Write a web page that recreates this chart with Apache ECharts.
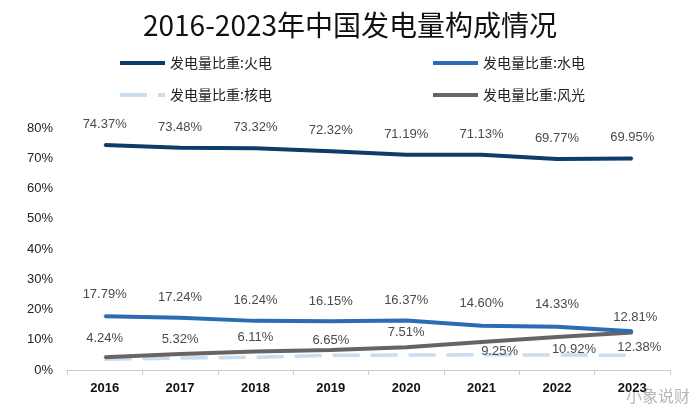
<!DOCTYPE html>
<html>
<head>
<meta charset="utf-8">
<script src="https://cdn.jsdelivr.net/npm/echarts@6/dist/echarts.min.js"></script>
<style>
  html, body { margin: 0; padding: 0; background: #fff; }
  #chart { width: 700px; height: 410px; }
</style>
</head>
<body>
<div id="chart"></div>
<script>
// values (percent)
const years = ['2016', '2017', '2018', '2019', '2020', '2021', '2022', '2023'];
const thermal = [74.37, 73.48, 73.32, 72.32, 71.19, 71.13, 69.77, 69.95];
const hydro = [17.79, 17.24, 16.24, 16.15, 16.37, 14.60, 14.33, 12.81];
const nuclear = [3.56, 3.94, 4.22, 4.88, 4.94, 5.02, 4.98, 4.86];
const wind = [4.24, 5.32, 6.11, 6.65, 7.51, 9.25, 10.92, 12.38];
const yTicks = [0, 10, 20, 30, 40, 50, 60, 70, 80];

const names = ['发电量比重:火电', '发电量比重:水电', '发电量比重:核电', '发电量比重:风光'];

// label placement (pixel offsets from the point), kept apart from the values
const hydroLabelShift = [[0, -22], [0, -20], [0, -20], [0, -20], [0, -20], [0, -22], [0, -22], [3, -14]];
const windLabelShift = [[0, -19], [0, -14], [0, -14], [0, -9], [0, -15], [18, 9], [17, 12], [7, 15]];

const labelFont = {
  show: true,
  color: '#4a4a4a',
  fontSize: 13,
  fontFamily: 'Liberation Sans, Arial, sans-serif',
  formatter: (p) => p.value.toFixed(2) + '%',
};

function withShift(values, shifts) {
  return values.map((v, i) => ({
    value: v,
    label: { position: 'inside', offset: shifts[i] },
  }));
}

const chart = echarts.init(document.getElementById('chart'));

const legendText = {
  fontSize: 14,
  color: '#222',
  fontFamily: 'Noto Sans CJK SC, sans-serif',
};
const legendBase = {
  itemWidth: 45,
  itemHeight: 10,
  itemGap: 10,
  textStyle: legendText,
  itemStyle: { opacity: 0 },
  lineStyle: { width: 4 },
  selectedMode: false,
};

chart.setOption({
  animation: false,
  backgroundColor: '#fff',
  title: {
    text: '2016-2023年中国发电量构成情况',
    left: 'center',
    top: 6,
    textStyle: {
      fontSize: 28,
      fontWeight: 'normal',
      color: '#111',
      fontFamily: 'Noto Sans CJK SC, sans-serif',
    },
  },
  legend: [
    { ...legendBase, data: [names[0]], left: 113, top: 51 },
    { ...legendBase, data: [names[1]], left: 426, top: 51 },
    { ...legendBase, data: [names[2]], left: 113, top: 83 },
    { ...legendBase, data: [names[3]], left: 426, top: 83 },
  ],
  grid: {
    left: 67,
    right: 30,
    top: 128,
    bottom: 40,
  },
  xAxis: {
    type: 'category',
    data: years,
    boundaryGap: true,
    axisLine: { lineStyle: { color: '#c8ccd2', width: 1 } },
    axisTick: { show: true, length: 5, lineStyle: { color: '#c8ccd2' } },
    axisLabel: {
      color: '#111',
      fontSize: 13,
      fontWeight: 'bold',
      margin: 12,
      fontFamily: 'Liberation Sans, Arial, sans-serif',
    },
  },
  yAxis: {
    type: 'value',
    min: yTicks[0],
    max: yTicks[yTicks.length - 1],
    interval: 10,
    axisLine: { show: false },
    axisTick: { show: false },
    splitLine: { show: false },
    axisLabel: {
      formatter: '{value}%',
      color: '#222',
      fontSize: 13,
      margin: 14,
      fontFamily: 'Liberation Sans, Arial, sans-serif',
    },
  },
  series: [
    {
      name: names[0],
      type: 'line',
      data: thermal,
      symbol: 'circle',
      symbolSize: 2,
      color: '#0f3b69',
      lineStyle: { width: 4, color: '#0f3b69' },
      label: { ...labelFont, position: 'top', distance: 13 },
      z: 4,
    },
    {
      name: names[1],
      type: 'line',
      data: withShift(hydro, hydroLabelShift),
      symbol: 'circle',
      symbolSize: 2,
      color: '#2c6cb4',
      lineStyle: { width: 4, color: '#2c6cb4' },
      label: labelFont,
      z: 4,
    },
    {
      name: names[2],
      type: 'line',
      data: nuclear,
      symbol: 'none',
      color: '#c8ddef',
      lineStyle: { width: 3.5, color: '#c8ddef', type: [27, 11] },
      z: 2,
    },
    {
      name: names[3],
      type: 'line',
      data: withShift(wind, windLabelShift),
      symbol: 'circle',
      symbolSize: 2,
      color: '#686466',
      lineStyle: { width: 4, color: '#686466' },
      label: labelFont,
      z: 3,
    },
  ],
  graphic: [
    {
      type: 'text',
      right: 10,
      bottom: 6,
      style: {
        text: '小象说财',
        fontSize: 16,
        fill: 'rgba(120,120,120,0.55)',
        fontFamily: 'Noto Sans CJK SC, sans-serif',
      },
    },
  ],
});
</script>
</body>
</html>
